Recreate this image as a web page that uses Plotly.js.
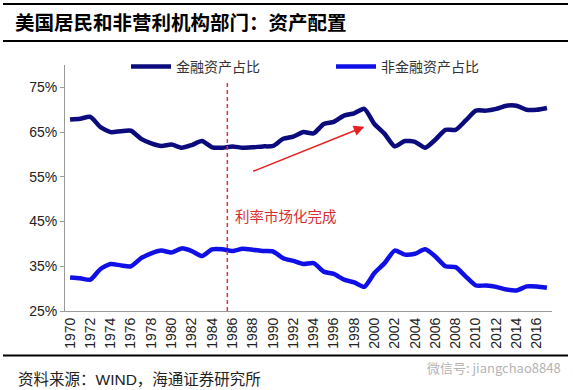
<!DOCTYPE html>
<html>
<head>
<meta charset="utf-8">
<script src="https://cdn.plot.ly/plotly-3.0.1.min.js"></script>
<style>html,body{margin:0;padding:0;background:#fff;}#chart{width:573px;height:390px;}</style>
</head>
<body>
<div id="chart"></div>
<script>
const years = [1970,1971,1972,1973,1974,1975,1976,1977,1978,1979,1980,1981,1982,1983,1984,1985,1986,1987,1988,1989,1990,1991,1992,1993,1994,1995,1996,1997,1998,1999,2000,2001,2002,2003,2004,2005,2006,2007,2008,2009,2010,2011,2012,2013,2014,2015,2016,2017];
const financialShare = [67.8,68.0,68.4,66.1,65.0,65.2,65.3,63.5,62.5,61.9,62.2,61.5,62.1,63.0,61.6,61.5,61.8,61.5,61.6,61.8,61.9,63.5,64.0,65.0,64.7,66.8,67.3,68.7,69.2,70.2,66.8,64.6,61.8,63.0,62.8,61.5,63.3,65.5,65.5,67.6,69.8,69.8,70.2,70.9,70.9,70.0,70.0,70.4];
const nonFinancialShare = [32.5,32.3,32.0,34.4,35.5,35.2,35.0,36.8,37.9,38.5,38.1,39.0,38.4,37.3,38.8,38.8,38.4,38.9,38.7,38.4,38.3,36.8,36.2,35.5,35.7,33.8,33.3,32.0,31.4,30.4,33.5,35.7,38.5,37.6,37.8,38.8,37.2,35.0,34.8,32.7,30.7,30.7,30.4,29.8,29.6,30.5,30.5,30.2];
const seriesNames = ['金融资产占比','非金融资产占比'];
const titleText = '美国居民和非营利机构部门：资产配置';
const eventLabel = '利率市场化完成';
const eventYear = 1985.5;
const sourceText = '资料来源：WIND，海通证券研究所';
const watermarkText = '微信号: jiangchao8848';

const CJK = '"Noto Sans CJK SC", sans-serif';
const LAT = '"Liberation Sans", Arial, "Noto Sans CJK SC", sans-serif';

const traces = [
  {x: years, y: financialShare, name: seriesNames[0], type: 'scatter', mode: 'lines',
   line: {color: '#0b0b7d', width: 4.5, shape: 'spline', smoothing: 0.6}},
  {x: years, y: nonFinancialShare, name: seriesNames[1], type: 'scatter', mode: 'lines',
   line: {color: '#1010e6', width: 4.5, shape: 'spline', smoothing: 0.6}}
];

const W = 573, H = 390, L = 65, R = 21, T = 65, B = 79;
const pw = W - L - R, ph = H - T - B;
const px = v => (v - L) / pw;
const py = v => (H - B - v) / ph;

const layout = {
  width: W, height: H,
  margin: {l: L, r: R, t: T, b: B},
  paper_bgcolor: '#fff', plot_bgcolor: '#fff',
  font: {family: LAT, color: '#222'},
  title: {text: '<b>' + titleText + '</b>', xref: 'container', yref: 'container', x: 15 / W, xanchor: 'left', y: 1 - 23 / H, yanchor: 'middle',
          font: {family: CJK, size: 19.5, color: '#000'}},
  showlegend: true,
  legend: {orientation: 'h', x: px(126), xanchor: 'left', y: py(67), yanchor: 'middle',
           font: {family: CJK, size: 14, color: '#333'}, bgcolor: 'rgba(0,0,0,0)', entrywidth: 150, entrywidthmode: 'pixels', itemwidth: 40},
  xaxis: {type: 'linear', range: [1969.5, 2017.5], tick0: 1970, dtick: 2, ticks: '', tickangle: -90,
          tickfont: {family: LAT, size: 14, color: '#222'}, showline: true, linecolor: '#999', linewidth: 1,
          showgrid: false, zeroline: false, fixedrange: true},
  xaxis2: {overlaying: 'x', anchor: 'y', type: 'linear', range: [1969.5, 2017.5], tick0: 1969.5, dtick: 2,
           ticks: 'outside', ticklen: 4, tickcolor: '#999', showticklabels: false, showline: false, showgrid: false, zeroline: false},
  yaxis: {range: [25, 80], tick0: 25, dtick: 10, ticksuffix: '%', ticks: 'outside', ticklen: 4, tickcolor: '#999',
          tickfont: {family: LAT, size: 14, color: '#222'}, showline: true, linecolor: '#999', linewidth: 1,
          showgrid: false, zeroline: false},
  shapes: [
    {type: 'line', xref: 'x', yref: 'y', x0: eventYear, x1: eventYear, y0: 25, y1: 76,
     line: {color: '#e03434', width: 1.5, dash: '4px,3px'}},
    {type: 'line', xref: 'paper', yref: 'paper', x0: px(3), x1: px(568), y0: py(4), y1: py(4), line: {color: '#000', width: 2}},
    {type: 'line', xref: 'paper', yref: 'paper', x0: px(3), x1: px(568), y0: py(41), y1: py(41), line: {color: '#000', width: 2}},
    {type: 'line', xref: 'paper', yref: 'paper', x0: px(3), x1: px(568), y0: py(355.5), y1: py(355.5), line: {color: '#000', width: 2}}
  ],
  annotations: [
    {text: eventLabel, xref: 'x', yref: 'y', x: 1986.1, y: 46.4, xanchor: 'left', yanchor: 'middle', showarrow: false,
     font: {family: CJK, size: 14.5, color: '#d83030'}},
    {text: '', xref: 'x', yref: 'y', axref: 'x', ayref: 'y', x: 1999.0, y: 66.2, ax: 1987.9, ay: 56.1,
     showarrow: true, arrowhead: 2, arrowsize: 1.4, arrowwidth: 1.5, arrowcolor: '#e82020'},
    {text: sourceText, xref: 'paper', yref: 'paper', x: px(16), y: py(379), xanchor: 'left', yanchor: 'middle', showarrow: false,
     font: {family: LAT, size: 15.5, color: '#222'}},
    {text: watermarkText, xref: 'paper', yref: 'paper', x: px(563), y: py(367), xanchor: 'right', yanchor: 'middle', showarrow: false,
     font: {family: CJK, size: 13, color: '#b4b4b4'}}
  ]
};

Plotly.newPlot('chart', traces, layout, {displayModeBar: false, staticPlot: true});
</script>
</body>
</html>
